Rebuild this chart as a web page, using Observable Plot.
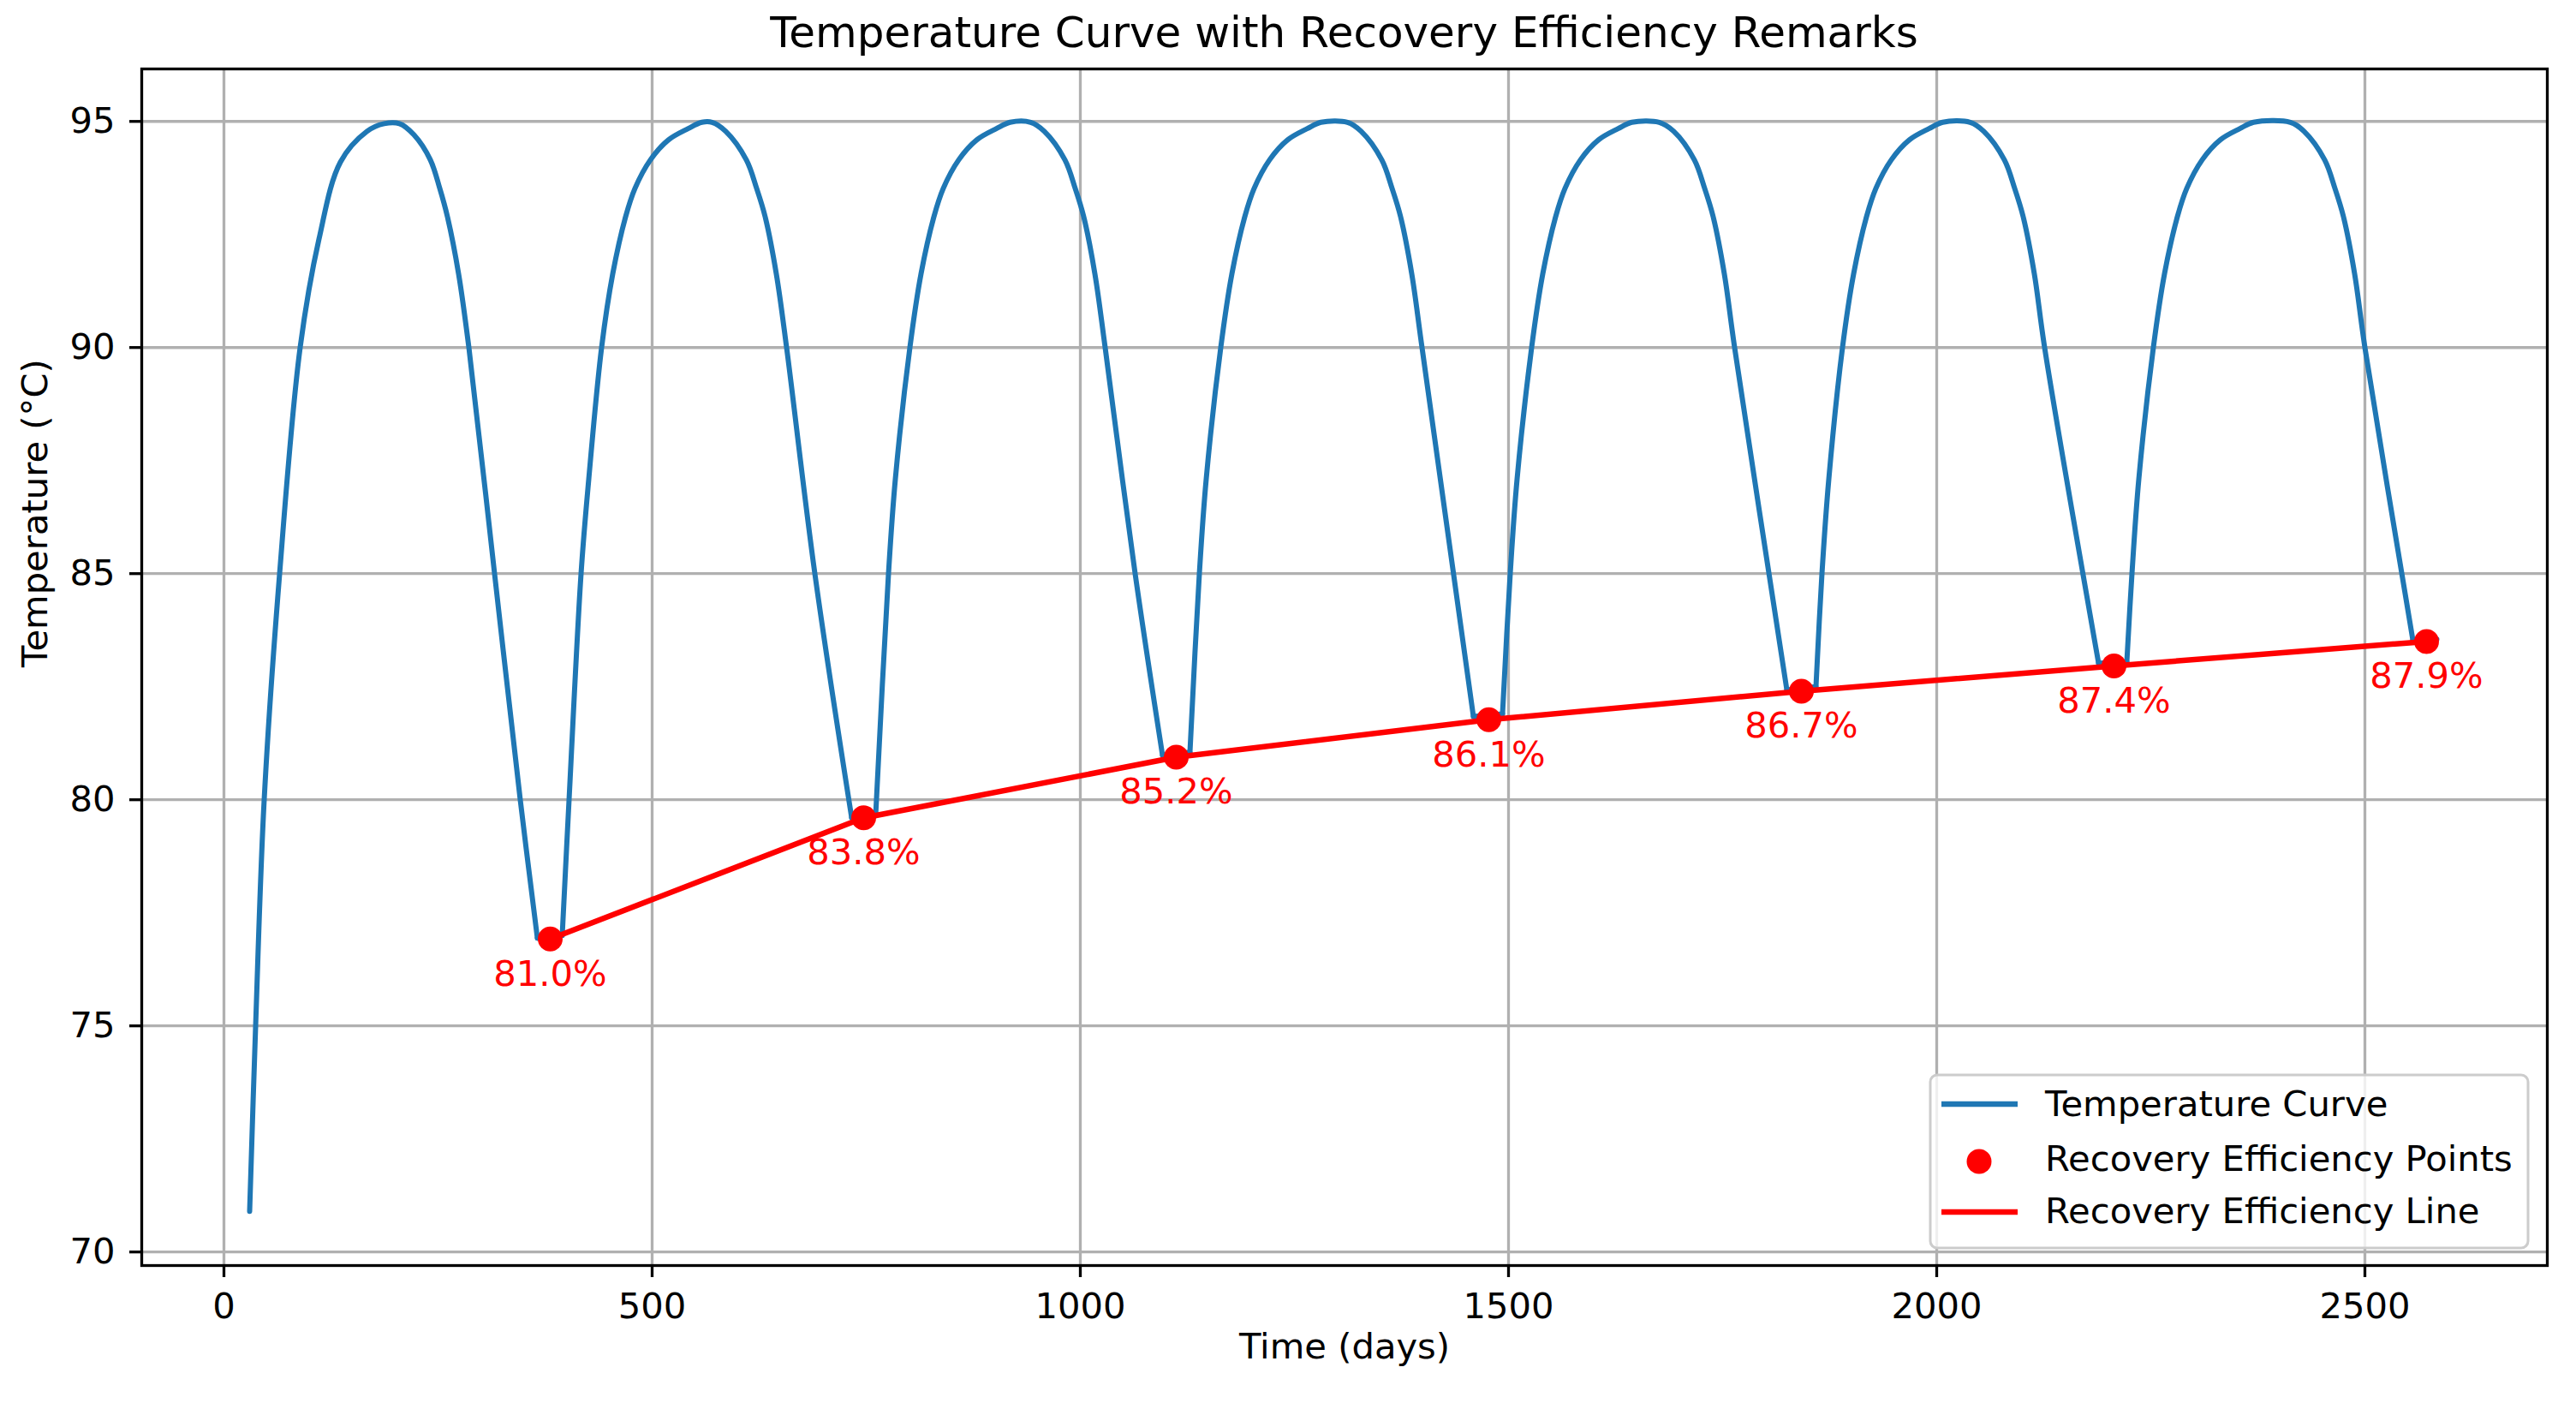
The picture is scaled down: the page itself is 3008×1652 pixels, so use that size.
<!DOCTYPE html>
<html>
<head>
<meta charset="utf-8">
<script src="https://cdn.jsdelivr.net/npm/d3@7"></script>
<script src="https://cdn.jsdelivr.net/npm/@observablehq/plot@0.6"></script>
<style>
  body { margin: 0; background: #fff; }
  #chart { position: relative; width: 3008px; height: 1652px; font-family: "DejaVu Sans", sans-serif; }
  #title {
    height: 60px; box-sizing: border-box; padding: 13px 34px 0 165px;
    text-align: center; font-size: 50px; line-height: 1; color: #000; white-space: nowrap;
  }
  #chart svg { display: block; }
</style>
</head>
<body>
<div id="chart"><div id="title">Temperature Curve with Recovery Efficiency Remarks</div></div>
<script>
// Temperature curve, one heating/cooling arch per list (days, °C)
const archDays = [
  [30, 37, 47, 65, 89, 111, 136, 167, 187, 205, 222, 241, 252, 261, 274, 286, 316, 346, 366],
  [395, 403, 417, 426, 441, 454, 469, 480, 498, 519, 542, 558, 570, 586, 610, 622, 632, 645, 657, 690, 733],
  [761, 776, 784, 801, 814, 829, 840, 858, 879, 902, 918, 942, 958, 982, 994, 1004, 1017, 1029, 1064, 1096],
  [1128, 1139, 1147, 1164, 1177, 1192, 1203, 1221, 1242, 1265, 1281, 1312, 1328, 1352, 1364, 1374, 1387, 1399, 1459],
  [1493, 1502, 1510, 1527, 1540, 1555, 1566, 1584, 1605, 1628, 1644, 1676, 1693, 1717, 1729, 1739, 1752, 1764, 1825],
  [1859, 1866, 1874, 1890, 1903, 1918, 1929, 1947, 1968, 1991, 2007, 2039, 2055, 2079, 2091, 2101, 2114, 2126, 2189],
  [2222, 2228, 2236, 2253, 2266, 2281, 2292, 2310, 2331, 2354, 2370, 2413, 2429, 2453, 2465, 2475, 2488, 2500, 2556]
];
const archTemps = [
  [70.9, 75.0, 80.0, 85.0, 90.0, 92.4, 94.1, 94.78, 94.95, 94.95, 94.7, 94.15, 93.52, 92.89, 91.63, 90.0, 85.0, 80.0, 76.94],
  [77.0, 80.0, 85.0, 87.09, 90.0, 91.63, 92.89, 93.52, 94.15, 94.59, 94.84, 94.98, 94.98, 94.78, 94.15, 93.52, 92.89, 91.63, 90.0, 85.0, 79.6],
  [79.65, 85.0, 87.09, 90.0, 91.63, 92.89, 93.52, 94.15, 94.59, 94.84, 94.98, 94.98, 94.78, 94.15, 93.52, 92.89, 91.63, 90.0, 85.0, 80.98],
  [81.05, 85.0, 87.09, 90.0, 91.63, 92.89, 93.52, 94.15, 94.59, 94.84, 94.98, 94.98, 94.78, 94.15, 93.52, 92.89, 91.63, 90.0, 81.84],
  [81.9, 85.0, 87.09, 90.0, 91.63, 92.89, 93.52, 94.15, 94.59, 94.84, 94.98, 94.98, 94.78, 94.15, 93.52, 92.89, 91.63, 90.0, 82.43],
  [82.5, 85.0, 87.09, 90.0, 91.63, 92.89, 93.52, 94.15, 94.59, 94.84, 94.98, 94.98, 94.78, 94.15, 93.52, 92.89, 91.63, 90.0, 83.02],
  [83.05, 85.0, 87.09, 90.0, 91.63, 92.89, 93.52, 94.15, 94.59, 94.84, 94.98, 94.98, 94.78, 94.15, 93.52, 92.89, 91.63, 90.0, 83.53]
];
// Short flat stretches at the bottom of each cycle
const troughDays = [[366, 395], [733, 761], [1096, 1128], [1459, 1493], [1825, 1859], [2189, 2222], [2556, 2584]];
const troughTemps = [[76.94, 77.0], [79.6, 79.65], [80.98, 81.05], [81.84, 81.9], [82.43, 82.5], [83.02, 83.05], [83.53, 83.55]];

// Recovery efficiency points
const effDays = [381, 747, 1112, 1477, 1842, 2207, 2572];
const effTemps = [76.92, 79.6, 80.94, 81.77, 82.4, 82.96, 83.5];
const effLabels = ["81.0%", "83.8%", "85.2%", "86.1%", "86.7%", "87.4%", "87.9%"];

const xTicks = [0, 500, 1000, 1500, 2000, 2500];
const yTicks = [70, 75, 80, 85, 90, 95];

const temps = [];
archDays.forEach((days, k) => days.forEach((d, i) => temps.push({day: d, temp: archTemps[k][i], part: "arch" + k})));
troughDays.forEach((days, k) => days.forEach((d, i) => temps.push({day: d, temp: troughTemps[k][i], part: "trough" + k})));
const effs = effDays.map((d, i) => ({day: d, temp: effTemps[i], label: effLabels[i]}));

const grid = {stroke: "#b0b0b0", strokeOpacity: 1, strokeWidth: 3.3};

const plot = Plot.plot({
  width: 3008,
  height: 1592,
  marginTop: 20,
  marginBottom: 175,
  marginLeft: 165,
  marginRight: 34,
  style: {fontFamily: "DejaVu Sans", fontSize: "41.7px", background: "white", color: "black"},
  x: {domain: [-96, 2713]},
  y: {domain: [69.7, 96.16]},
  marks: [
    Plot.gridX(xTicks, grid),
    Plot.gridY(yTicks, grid),
    Plot.line(temps, {x: "day", y: "temp", z: "part", stroke: "#1f77b4", strokeWidth: 6, curve: "catmull-rom"}),
    Plot.dot(effs, {x: "day", y: "temp", r: 14.5, fill: "red"}),
    Plot.line(effs, {x: "day", y: "temp", stroke: "red", strokeWidth: 6.5}),
    Plot.text(effs, {x: "day", y: "temp", text: "label", dy: 41, fill: "red"}),
    Plot.frame({stroke: "black", strokeWidth: 3.3}),
    Plot.axisX(xTicks, {tickSize: 14, tickPadding: 18, strokeWidth: 3.3, tickFormat: "d", label: null}),
    Plot.axisY(yTicks, {tickSize: 14, tickPadding: 17, strokeWidth: 3.3, tickFormat: "d", label: null}),
    Plot.text(["Time (days)"], {frameAnchor: "bottom", dy: 108}),
    Plot.text(["Temperature (°C)"], {frameAnchor: "left", dx: -124, rotate: -90})
  ]
});

document.querySelector("#chart").appendChild(plot);

// Legend, lower right inside the axes
const legend = d3.select("#chart").append("svg")
  .attr("width", 712).attr("height", 214)
  .style("position", "absolute").style("left", "2250px").style("top", "1250px")
  .style("font-family", "DejaVu Sans").style("font-size", "41.7px");

legend.append("rect")
  .attr("x", 4).attr("y", 5).attr("width", 698).attr("height", 202).attr("rx", 8)
  .attr("fill", "white").attr("fill-opacity", 0.8)
  .attr("stroke", "#cccccc").attr("stroke-width", 3);

const rows = [
  {name: "Temperature Curve", kind: "line", color: "#1f77b4", y: 39, base: 53},
  {name: "Recovery Efficiency Points", kind: "dot", color: "red", y: 106, base: 117},
  {name: "Recovery Efficiency Line", kind: "line", color: "red", y: 165, base: 178}
];
rows.forEach(r => {
  if (r.kind === "line") {
    legend.append("line").attr("x1", 17).attr("x2", 106).attr("y1", r.y).attr("y2", r.y)
      .attr("stroke", r.color).attr("stroke-width", 6.5);
  } else {
    legend.append("circle").attr("cx", 61).attr("cy", r.y).attr("r", 14.5).attr("fill", r.color);
  }
  legend.append("text").attr("x", 138).attr("y", r.base).attr("fill", "black").text(r.name);
});
</script>
</body>
</html>
